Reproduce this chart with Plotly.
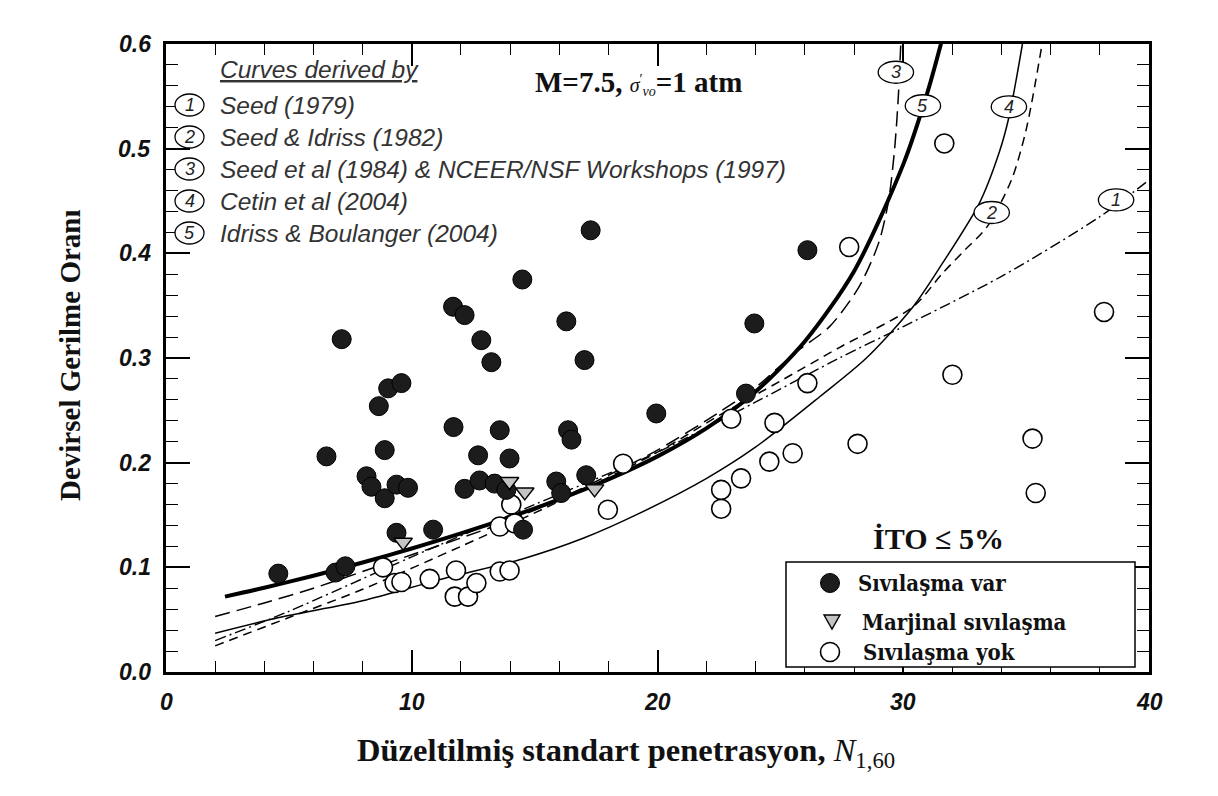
import plotly.graph_objects as go

# ---------------- data ----------------
liq_x = [4.57, 6.53, 7.15, 6.9, 7.3, 8.66, 9.04, 9.58, 8.9, 8.16, 8.36, 8.9, 9.38, 9.85,
         9.38, 10.87, 11.68, 12.15, 12.83, 13.24, 11.7, 13.58, 12.7, 13.98, 12.15, 12.76,
         13.37, 13.85, 14.53, 14.5, 16.29, 17.03, 16.36, 16.5, 15.88, 16.08, 17.1, 17.28,
         19.95, 23.6, 23.94, 26.1]
liq_y = [0.094, 0.206, 0.318, 0.095, 0.101, 0.254, 0.271, 0.276, 0.212, 0.187, 0.177, 0.166,
         0.179, 0.176, 0.133, 0.136, 0.349, 0.341, 0.317, 0.296, 0.234, 0.231, 0.207, 0.204,
         0.175, 0.183, 0.180, 0.174, 0.136, 0.375, 0.335, 0.298, 0.231, 0.222, 0.182, 0.171,
         0.188, 0.422, 0.247, 0.266, 0.333, 0.403]

marg_x = [9.65, 13.98, 14.6, 17.44]
marg_y = [0.124, 0.182, 0.172, 0.175]

noliq_x = [8.83, 9.3, 9.58, 10.73, 11.8, 11.75, 12.29, 12.63, 13.58, 13.98, 14.05, 13.58,
           14.19, 17.98, 18.6, 22.59, 22.59, 23.4, 23.0, 24.55, 25.5, 24.76, 26.1, 27.8,
           28.14, 31.67, 32.0, 35.26, 35.39, 38.17]
noliq_y = [0.100, 0.085, 0.086, 0.089, 0.097, 0.072, 0.072, 0.085, 0.096, 0.097, 0.160, 0.139,
           0.142, 0.155, 0.199, 0.156, 0.174, 0.185, 0.242, 0.201, 0.209, 0.238, 0.276, 0.406,
           0.218, 0.505, 0.284, 0.223, 0.171, 0.344]

# curves
c1_x = [2, 5, 10, 15, 20, 24, 27.4, 30, 34, 38, 40]
c1_y = [0.03, 0.058, 0.11, 0.16, 0.21, 0.258, 0.30, 0.33, 0.378, 0.435, 0.47]

c2_x = [2, 5, 8, 12, 16, 20, 22.5, 25, 27.4, 30.4, 31.6, 32.5, 33.4, 34.4, 35.0, 35.65]
c2_y = [0.025, 0.052, 0.079, 0.12, 0.163, 0.21, 0.245, 0.278, 0.31, 0.349, 0.381, 0.403,
        0.425, 0.47, 0.518, 0.60]

c3_x = [2, 4, 6, 8, 10, 12, 14, 16, 18, 20, 22.5, 24, 25.6, 27.0, 28.2, 29.0, 29.4, 29.65,
        29.8, 29.9]
c3_y = [0.053, 0.066, 0.08, 0.096, 0.112, 0.128, 0.145, 0.165, 0.188, 0.212, 0.248, 0.272,
        0.305, 0.33, 0.368, 0.41, 0.45, 0.50, 0.55, 0.60]

c4_x = [2, 4.6, 8, 11.1, 14.5, 17, 19.3, 22, 24, 26.6, 28.5, 30.4, 31.5, 33.1, 33.9, 34.3,
        34.85]
c4_y = [0.037, 0.052, 0.068, 0.088, 0.108, 0.128, 0.152, 0.185, 0.215, 0.263, 0.30, 0.349,
        0.387, 0.448, 0.496, 0.53, 0.60]

c5_x = [2.4, 4, 6, 8, 10, 12, 14, 16, 18, 20, 22, 24, 26, 28, 30, 31, 31.6]
c5_y = [0.072, 0.0805, 0.092, 0.1046, 0.118, 0.1324, 0.148, 0.165, 0.184, 0.206, 0.233,
        0.268, 0.316, 0.383, 0.485, 0.555, 0.606]

x_ticks = [0, 10, 20, 30, 40]
y_ticks = [0.0, 0.1, 0.2, 0.3, 0.4, 0.5, 0.6]
x_minor_step = 2
y_minor_step = 0.02

curve_labels = ["1", "2", "3", "4", "5"]
curve_names = ["Seed (1979)", "Seed & Idriss (1982)",
               "Seed et al (1984) & NCEER/NSF Workshops (1997)",
               "Cetin et al (2004)", "Idriss & Boulanger (2004)"]
legend_names = ["Sıvılaşma var", "Marjinal sıvılaşma", "Sıvılaşma yok"]

# ---------------- figure ----------------
# plot area in page pixels: left 166, right 1149, top 44, bottom 672
PL, PR, PT, PB = 166.0, 1149.0, 44.0, 672.0
PW, PH = PR - PL, PB - PT


def px(xp):
    return (xp - PL) / PW


def py(yp):
    return (PB - yp) / PH


fig = go.Figure()

curve_styles = [
    (c1_x, c1_y, dict(color="black", width=1.4, dash="11px,4px,2px,4px")),
    (c2_x, c2_y, dict(color="black", width=1.5, dash="9px,6px")),
    (c3_x, c3_y, dict(color="black", width=1.5, dash="15px,7px")),
    (c4_x, c4_y, dict(color="black", width=1.5)),
    (c5_x, c5_y, dict(color="black", width=4)),
]
for cx, cy, ln in curve_styles:
    fig.add_trace(go.Scatter(x=cx, y=cy, mode="lines",
                             line=dict(shape="spline", smoothing=0.8, **ln),
                             showlegend=False, hoverinfo="skip"))

fig.add_trace(go.Scatter(x=noliq_x, y=noliq_y, mode="markers", name=legend_names[2],
                         marker=dict(symbol="circle", size=19, color="white",
                                     line=dict(color="black", width=1.6)),
                         showlegend=False))
fig.add_trace(go.Scatter(x=liq_x, y=liq_y, mode="markers", name=legend_names[0],
                         marker=dict(symbol="circle", size=19, color="#1c1c1c",
                                     line=dict(color="#000000", width=1)),
                         showlegend=False))
fig.add_trace(go.Scatter(x=marg_x, y=marg_y, mode="markers", name=legend_names[1],
                         marker=dict(symbol="triangle-down", size=16, color="#c4c4c4",
                                     line=dict(color="black", width=1.4)),
                         showlegend=False))

shapes = []
annotations = []

# ---- point legend (bottom right), drawn by hand ----
shapes.append(dict(type="rect", xref="paper", yref="paper", x0=px(786), x1=px(1135),
                   y0=py(667), y1=py(562),
                   line=dict(color="black", width=1.5), fillcolor="white", layer="above"))
shapes.append(dict(type="circle", xref="paper", yref="paper", x0=px(820.5), x1=px(839.5),
                   y0=py(592.5), y1=py(573.5), fillcolor="#1c1c1c",
                   line=dict(color="black", width=1)))
shapes.append(dict(type="path", xref="paper", yref="paper",
                   path="M %f %f L %f %f L %f %f Z" % (px(824), py(615), px(840), py(615),
                                                      px(832), py(629)),
                   fillcolor="#c4c4c4", line=dict(color="black", width=1.4)))
shapes.append(dict(type="circle", xref="paper", yref="paper", x0=px(820.5), x1=px(839.5),
                   y0=py(661.5), y1=py(642.5), fillcolor="white",
                   line=dict(color="black", width=1.6)))
for name, xp, yp in zip(legend_names, [856, 860, 861], [583, 622, 652]):
    annotations.append(dict(x=px(xp), y=py(yp), xref="paper", yref="paper",
                            xanchor="left", yanchor="middle", showarrow=False,
                            text="<b>%s</b>" % name,
                            font=dict(family="DejaVu Serif Condensed, DejaVu Serif", size=22,
                                      color="#111")))

# curve label ellipses on the curves
lab_pos = [(38.66, 0.451), (33.6, 0.439), (29.7, 0.573), (34.3, 0.540), (30.8, 0.541)]
for (lx, ly), t in zip(lab_pos, curve_labels):
    shapes.append(dict(type="circle", xref="x", yref="y", x0=lx - 0.72, x1=lx + 0.72,
                       y0=ly - 0.0105, y1=ly + 0.0105, fillcolor="white",
                       line=dict(color="black", width=1.3)))
    annotations.append(dict(x=lx, y=ly, xref="x", yref="y", xanchor="center", yanchor="middle",
                            text="<i>%s</i>" % t, showarrow=False,
                            font=dict(family="Liberation Sans", size=18, color="#222")))

# top-left curves legend
rows_px = [105, 137, 169, 201, 233]
annotations.append(dict(x=px(218), y=py(70), xref="paper", yref="paper",
                        xanchor="left", yanchor="middle", showarrow=False,
                        text="<i><u>Curves derived by</u></i>",
                        font=dict(family="Liberation Sans", size=24.5, color="#333")))
for yp, t, nm in zip(rows_px, curve_labels, curve_names):
    shapes.append(dict(type="circle", xref="paper", yref="paper", x0=px(175), x1=px(204),
                       y0=py(yp + 11), y1=py(yp - 11), fillcolor="white",
                       line=dict(color="black", width=1.3)))
    annotations.append(dict(x=px(189.5), y=py(yp), xref="paper", yref="paper",
                            xanchor="center", yanchor="middle",
                            text="<i>%s</i>" % t, showarrow=False,
                            font=dict(family="Liberation Sans", size=18, color="#222")))
    annotations.append(dict(x=px(218), y=py(yp), xref="paper", yref="paper",
                            xanchor="left", yanchor="middle", showarrow=False,
                            text="<i>%s</i>" % nm,
                            font=dict(family="Liberation Sans", size=24.5, color="#333")))

# condition texts
annotations.append(dict(x=px(638), y=py(82), xref="paper", yref="paper",
                        xanchor="center", yanchor="middle", showarrow=False,
                        text="<b>M=7.5, </b><span style='font-size:20px'><i>σ</i><sup>′</sup><sub><i>vo</i></sub></span><b>=1 atm</b>",
                        font=dict(family="Liberation Serif", size=29, color="#111")))
annotations.append(dict(x=px(938), y=py(538), xref="paper", yref="paper",
                        xanchor="center", yanchor="middle",
                        showarrow=False, text="<b>İTO ≤ 5%</b>",
                        font=dict(family="Liberation Serif", size=30, color="#111")))

# axis titles
annotations.append(dict(x=px(70), y=py(355), xref="paper", yref="paper",
                        xanchor="center", yanchor="middle",
                        showarrow=False, textangle=-90, text="<b>Devirsel Gerilme Oranı</b>",
                        font=dict(family="Liberation Serif", size=29, color="#111")))
annotations.append(dict(x=px(626), y=py(752), xref="paper", yref="paper",
                        xanchor="center", yanchor="middle", showarrow=False,
                        text="<b>Düzeltilmiş standart penetrasyon,</b> <i>N</i><sub>1,60</sub>",
                        font=dict(family="Liberation Serif", size=32.5, color="#111")))

# tick labels (bold italic), placed at the tick values
for v in x_ticks:
    annotations.append(dict(x=v, y=py(702), xref="x", yref="paper", xanchor="center",
                            yanchor="middle", showarrow=False, text="<b><i>%d</i></b>" % v,
                            font=dict(family="Liberation Sans", size=23, color="#111")))
for v in y_ticks:
    annotations.append(dict(x=px(153), y=v, xref="paper", yref="y", xanchor="right",
                            yanchor="middle", showarrow=False, text="<b><i>%.1f</i></b>" % v,
                            font=dict(family="Liberation Sans", size=23, color="#111")))

fig.update_layout(
    width=1218, height=796,
    # the page adds an 8px body margin, so margins are reduced by 8px
    margin=dict(l=PL - 8, r=1218 - PR + 8, t=PT - 8, b=796 - PB + 8),
    plot_bgcolor="rgba(0,0,0,0)", paper_bgcolor="white",
    showlegend=False,
    xaxis=dict(range=[x_ticks[0], x_ticks[-1]], dtick=x_ticks[1] - x_ticks[0],
               layer="above traces", showticklabels=False,
               showline=True, linewidth=2.5, linecolor="black", mirror="allticks",
               ticks="inside", ticklen=22, tickwidth=1.5, tickcolor="black",
               minor=dict(dtick=x_minor_step, ticks="inside", ticklen=11, tickwidth=1.2,
                          tickcolor="black"),
               showgrid=False, zeroline=False),
    yaxis=dict(range=[y_ticks[0], y_ticks[-1]], dtick=round(y_ticks[1] - y_ticks[0], 3),
               layer="above traces", showticklabels=False,
               showline=True, linewidth=2.5, linecolor="black", mirror="allticks",
               ticks="inside", ticklen=24, tickwidth=1.5, tickcolor="black",
               minor=dict(dtick=y_minor_step, ticks="inside", ticklen=12, tickwidth=1.2,
                          tickcolor="black"),
               showgrid=False, zeroline=False),
    shapes=shapes, annotations=annotations,
)

fig.write_html("out.html")
